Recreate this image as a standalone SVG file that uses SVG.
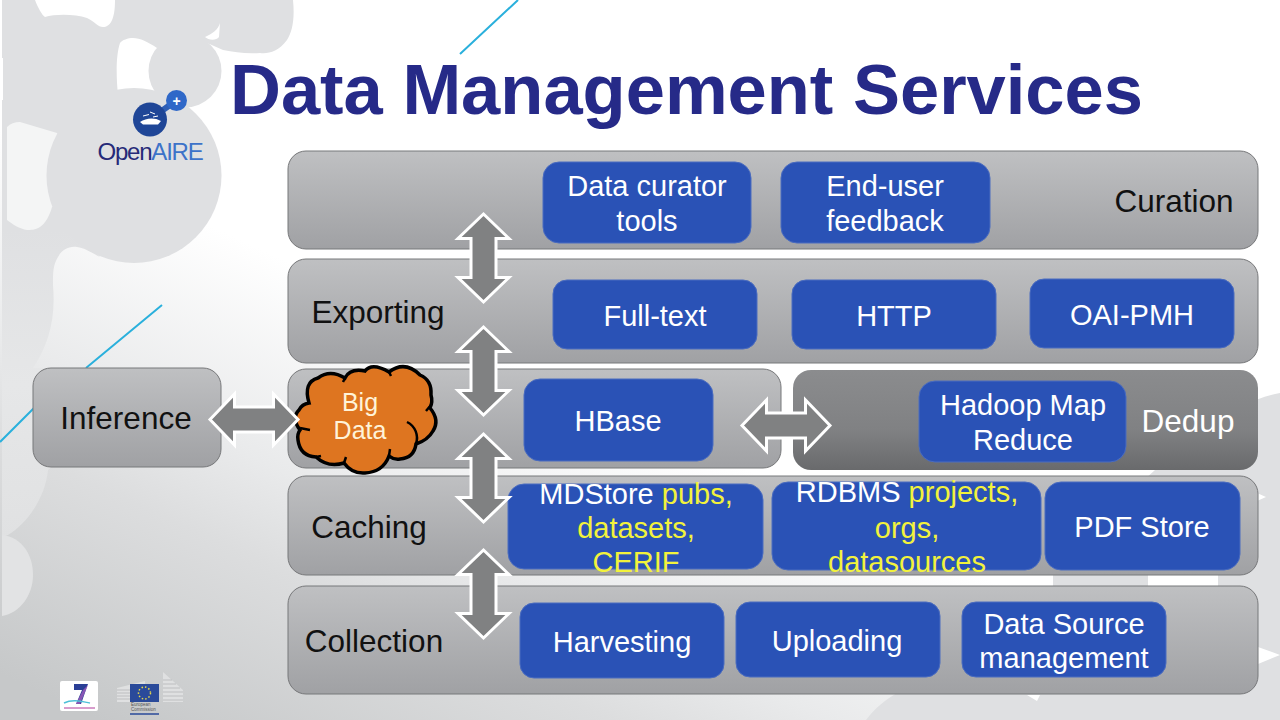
<svg xmlns="http://www.w3.org/2000/svg" width="1280" height="720" viewBox="0 0 1280 720">
<defs>
<linearGradient id="bg" gradientUnits="userSpaceOnUse" x1="350" y1="170" x2="100" y2="720"><stop offset="0.18" stop-color="#ffffff"/><stop offset="0.5" stop-color="#e9eaeb"/><stop offset="0.65" stop-color="#dcddde"/><stop offset="1" stop-color="#c6c8c9"/></linearGradient>
<linearGradient id="layer" x1="0" y1="0" x2="0" y2="1"><stop offset="0" stop-color="#bfc0c2"/><stop offset="1" stop-color="#a0a1a4"/></linearGradient>
<linearGradient id="dark" x1="0" y1="0" x2="0" y2="1"><stop offset="0" stop-color="#8b8c8e"/><stop offset="0.6" stop-color="#808183"/><stop offset="1" stop-color="#696a6c"/></linearGradient>
<linearGradient id="lobe" gradientUnits="userSpaceOnUse" x1="0" y1="230" x2="0" y2="540"><stop offset="0" stop-color="#dfe0e2"/><stop offset="0.5" stop-color="#e6e7e8"/><stop offset="1" stop-color="#e0e1e2"/></linearGradient>
<polygon id="v" points="0,-44 25.500,-19.500 12.500,-19.500 12.500,19.500 25.500,19.500 0,44 -25.500,19.500 -12.500,19.500 -12.500,-19.500 -25.500,-19.500"/>
<polygon id="h" points="-44,0 -19.500,-25.500 -19.500,-12.500 19.500,-12.500 19.500,-25.500 44,0 19.500,25.500 19.500,12.500 -19.500,12.500 -19.500,25.500"/>
</defs>
<style>
text{font-family:"Liberation Sans",Arial,sans-serif;font-size:29px;text-anchor:middle}
.lay{fill:url(#layer);stroke:#77787a;stroke-width:1}
.box{fill:#2a52b6;stroke:#4a6cc0;stroke-width:1}
.w{fill:#ffffff}.b{fill:#111111}.y{fill:#f2f23c}
.side{font-size:31.500px}
.arr{fill:#808182;stroke:#ffffff;stroke-width:3}
.blob{fill:#dfe0e2}
</style>
<rect width="1280" height="720" fill="url(#bg)"/>
<g id="background">
<path class="blob" d="M2,0H35C38,8 42,15 45,17C55,14 75,14 87,18C95,22 98,27 103,27C110,27 115,20 115,0H293C295,20 292,32 287,40C278,52 268,54 260,53C245,54 235,52 223,50L205,42C190,40 170,42 157,48C148,42 140,38 133,38C128,38 122,40 120,43C116,55 116,75 118,95L118,140L60,240L2,240Z"/>
<path fill="url(#lobe)" d="M2,225L60,215L100,257C90,252 85,248 77,247C68,246 62,250 58,257C53,265 53,272 53,285C56,320 48,345 33,368L60,368L60,460L48,470C45,500 25,525 8,535L2,537Z"/>
<path fill="#e2e3e4" d="M2,535C22,537 33,555 33,575C33,595 20,613 2,616Z"/>
<path fill="#f4f5f5" d="M7,127Q12,122 20,122L57,133L70,150L70,200L52,207C50,215 45,224 40,227C35,230 31,230 27,230C20,229 12,224 7,220Z"/>
<circle class="blob" cx="185" cy="71" r="36.500"/>
<circle class="blob" cx="134" cy="175.500" r="87.500"/>
<path fill="#ffffff" d="M220,23C218,30 212,34 205,37C208,40 216,41 219,37Z"/>
<path fill="#ffffff" d="M0,58H3V100H0Z"/>
<path class="blob" d="M1280,393C1240,400 1190,435 1155,470L1100,520L1053,575L1053,600L897,693C885,700 875,708 866,720H1280Z"/>
<path fill="#ffffff" d="M1148,560H1218V600H1148ZM1027,695H1040L1037,701ZM1257,493L1266,497L1257,501ZM1258,647L1280,655L1258,664Z"/>
<path d="M460,54L518,0M86,368L162,305M0,442L34,408" stroke="#2ab0dc" stroke-width="2" fill="none"/>
</g>
<g id="logo">
<path d="M163,110L170,105" stroke="#2f5fb5" stroke-width="6"/>
<circle cx="150" cy="119.500" r="17" fill="#1f4697"/>
<circle cx="176.500" cy="100.500" r="10.500" fill="#2f68c8"/>
<text x="176.500" y="105.500" style="font-size:14px;font-weight:bold" class="w">+</text>
<path d="M140,122C146,118 154,117 161,121L158,124.500H143Z" fill="#ffffff"/>
<path d="M143,116L149,114.500M150,112L155,114M153,117L158,116" stroke="#ffffff" stroke-width="1" fill="none"/>
<text x="150" y="159.500" style="font-size:24px;letter-spacing:-1.200px"><tspan fill="#262a78">Open</tspan><tspan fill="#3d73c9">AIRE</tspan></text>
</g>
<g id="funders">
<rect x="60" y="681" width="38" height="30" rx="2" fill="#ffffff"/>
<path d="M74,684H88L81,704H76L82,690H74Z" fill="#2a3f96"/>
<path d="M83,690L88,685L80,704L76,704Z" fill="#b060c0" opacity="0.700"/>
<path d="M64,703C72,699 80,701 90,703" fill="none" stroke="#4fc0d8" stroke-width="1.500"/>
<path d="M64,708H95" stroke="#b03a9a" stroke-width="1"/>
<path d="M117,688L145,681V702H117ZM163,672L183,690V702H163Z" fill="#dfe0e1"/>
<path d="M117,690H130M117,693H130M117,696H130M117,699H130M163,680H172M163,684H176M163,688H180M163,692H183M163,696H183M163,700H183" stroke="#b4b6b7" stroke-width="0.800" fill="none"/>
<rect x="130" y="684" width="29" height="18" fill="#2a4a9a"/>
<circle cx="144.500" cy="693" r="6" fill="none" stroke="#e6d84a" stroke-width="1.500" stroke-dasharray="1.500 2"/>
<text x="131" y="706" style="font-size:4.500px;text-anchor:start;fill:#555">European</text>
<text x="131" y="711" style="font-size:4.500px;text-anchor:start;fill:#555">Commission</text>
<path d="M130,714H159" stroke="#2a4a9a" stroke-width="1.500"/>
</g>
<text x="686.500" y="114" style="font-size:70.500px;font-weight:bold;fill:#262a88">Data Management Services</text>

<g id="curation"><rect class="lay" x="288" y="151" width="970" height="98" rx="18"/><text class="b side" x="1174" y="212">Curation</text></g>
<g id="exporting"><rect class="lay" x="288" y="259" width="970" height="104" rx="18"/><text class="b side" x="378" y="323">Exporting</text></g>
<g id="middle"><rect class="lay" x="288" y="369" width="493" height="99" rx="18"/></g>
<g id="dedup"><rect x="793" y="370" width="465" height="100" rx="18" fill="url(#dark)"/><text class="w side" x="1188" y="432">Dedup</text></g>
<g id="caching"><rect class="lay" x="288" y="476" width="970" height="99" rx="18"/><text class="b side" x="369" y="538">Caching</text></g>
<g id="collection"><rect class="lay" x="288" y="586" width="970" height="108" rx="18"/><text class="b side" x="374" y="652">Collection</text></g>
<g id="inference"><rect class="lay" x="33" y="368" width="188" height="99" rx="18"/><text class="b side" x="126" y="429">Inference</text></g>

<g id="data-curator"><rect class="box" x="543" y="162" width="208" height="81" rx="16"/><text class="w" x="647" y="196">Data curator</text><text class="w" x="647" y="231">tools</text></g>
<g id="end-user"><rect class="box" x="781" y="162" width="209" height="81" rx="16"/><text class="w" x="885" y="196">End-user</text><text class="w" x="885" y="231">feedback</text></g>
<g id="full-text"><rect class="box" x="553" y="280" width="204" height="69" rx="14"/><text class="w" x="655" y="326">Full-text</text></g>
<g id="http"><rect class="box" x="792" y="280" width="204" height="69" rx="14"/><text class="w" x="894" y="326">HTTP</text></g>
<g id="oai"><rect class="box" x="1030" y="279" width="204" height="69" rx="14"/><text class="w" x="1132" y="325">OAI-PMH</text></g>
<g id="hbase"><rect class="box" x="524" y="379" width="189" height="82" rx="16"/><text class="w" x="618" y="431">HBase</text></g>
<g id="hadoop"><rect class="box" x="919" y="381" width="207" height="81" rx="16"/><text class="w" x="1023" y="415">Hadoop Map</text><text class="w" x="1023" y="450">Reduce</text></g>
<g id="mdstore"><rect class="box" x="508" y="484" width="255" height="85" rx="16"/><text x="636" y="504"><tspan class="w">MDStore </tspan><tspan class="y">pubs,</tspan></text><text class="y" x="636" y="538">datasets,</text><text class="y" x="636" y="572">CERIF</text></g>
<g id="rdbms"><rect class="box" x="772" y="482" width="269" height="88" rx="16"/><text x="907" y="502"><tspan class="w">RDBMS </tspan><tspan class="y">projects,</tspan></text><text class="y" x="907" y="538">orgs,</text><text class="y" x="907" y="572">datasources</text></g>
<g id="pdf"><rect class="box" x="1045" y="482" width="195" height="88" rx="16"/><text class="w" x="1142" y="537">PDF Store</text></g>
<g id="harvesting"><rect class="box" x="520" y="603" width="204" height="75" rx="14"/><text class="w" x="622" y="652">Harvesting</text></g>
<g id="uploading"><rect class="box" x="736" y="602" width="204" height="75" rx="14"/><text class="w" x="837" y="651">Uploading</text></g>
<g id="data-source"><rect class="box" x="962" y="602" width="204" height="75" rx="14"/><text class="w" x="1064" y="634">Data Source</text><text class="w" x="1064" y="668">management</text></g>

<g id="big-data">
<path d="M300,430Q291,418 299,410Q302,404 309,403Q303,382 318,378Q330,369 345,378Q350,368 365,371Q372,362 389,372Q405,360 420,375Q432,380 431,395Q433,402 430,408Q440,420 433,431Q428,440 416,444Q414,458 400,459Q394,460 389,456Q383,472 365,473Q352,474 344,463Q328,468 316,457Q300,456 298,440Q297,434 300,430Z" fill="#de7520" stroke="#000" stroke-width="3.500"/>
<path d="M300,428L310,430M345,378L343,382M389,372L391,376M431,405L426,411M407,422C415,426 419,435 416,444M389,456L390,449M344,463L346,457M316,457L321,456" fill="none" stroke="#000" stroke-width="2.500"/>
<text x="360" y="411" style="font-size:25px;fill:#fff3d8">Big</text>
<text x="360" y="439" style="font-size:25px;fill:#fff3d8">Data</text>
</g>

<g id="connectors">
<use href="#v" class="arr" x="483.500" y="258"/>
<use href="#v" class="arr" x="483.500" y="371"/>
<use href="#v" class="arr" x="483.500" y="478"/>
<use href="#v" class="arr" x="483.500" y="594"/>
<use href="#h" class="arr" x="254" y="419.500"/>
<use href="#h" class="arr" x="786" y="425.500"/>
</g>
</svg>
